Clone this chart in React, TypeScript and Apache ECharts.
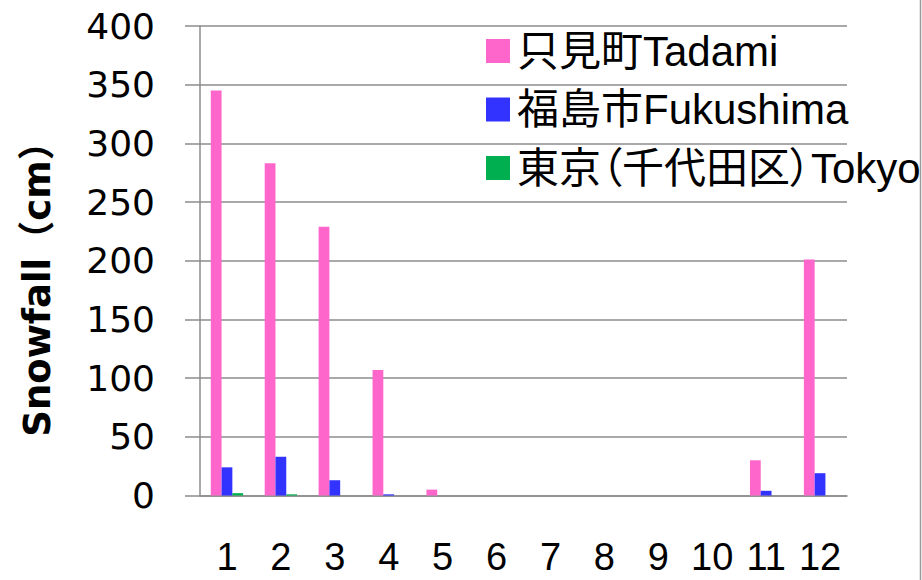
import React, { useEffect, useRef } from "react";
import * as echarts from "echarts";

const months = ["1", "2", "3", "4", "5", "6", "7", "8", "9", "10", "11", "12"];
const tadami = [345, 283, 229, 107, 5, 0, 0, 0, 0, 0, 30, 201];
const fukushima = [24, 33, 13, 1, 0, 0, 0, 0, 0, 0, 4, 19];
const tokyo = [2, 1, 0, 0, 0, 0, 0, 0, 0, 0, 0, 0];
const seriesNames = ["只見町Tadami", "福島市Fukushima", "東京（千代田区）Tokyo"];
const colors = ["#FF66CC", "#3333FF", "#00B050"];
const yTitle = "Snowfall（cm）";

const XLAB = "'Liberation Sans', 'Noto Sans CJK JP', sans-serif";
const YLAB = "'DejaVu Sans', 'Noto Sans CJK JP', sans-serif";
const LEGEND_FONT = "'Liberation Sans', 'Noto Sans CJK JP', sans-serif";
const GRID_COLOR = "#8c8c8c";

// proportional CJK punctuation for the legend texts (as in the reference)
const css = `text[style*="Liberation"], text[font-family*="Liberation"] { font-feature-settings: "palt" 1; }`;

export default function App() {
  const ref = useRef<HTMLDivElement>(null);
  useEffect(() => {
    if (!ref.current) return;
    const chart = echarts.init(ref.current, null, { renderer: "svg" });
    const data = [tadami, fukushima, tokyo];
    chart.setOption({
      animation: false,
      backgroundColor: "#ffffff",
      grid: { left: 200, right: 75, top: 26, bottom: 84.5 },
      legend: {
        orient: "vertical",
        left: 481,
        top: 24,
        itemWidth: 24,
        itemHeight: 24,
        itemGap: 14.5,
        icon: "rect",
        textStyle: {
          fontSize: 42,
          lineHeight: 44,
          color: "#000",
          fontFamily: LEGEND_FONT,
          padding: [0, 0, 0, 2],
        },
        data: seriesNames,
      },
      xAxis: {
        type: "category",
        data: months,
        axisLine: { show: true, lineStyle: { color: GRID_COLOR, width: 1.5 } },
        axisTick: { show: false },
        axisLabel: {
          color: "#000",
          fontSize: 38,
          lineHeight: 36,
          fontFamily: XLAB,
          margin: 43,
          interval: 0,
        },
      },
      yAxis: {
        type: "value",
        min: 0,
        max: 400,
        interval: 50,
        axisLine: { show: true, lineStyle: { color: GRID_COLOR, width: 1.5 } },
        axisTick: { show: true, length: 15, lineStyle: { color: GRID_COLOR, width: 1.5 } },
        splitLine: { show: true, lineStyle: { color: GRID_COLOR, width: 1.5 } },
        axisLabel: {
          color: "#000",
          fontSize: 36,
          fontFamily: YLAB,
          margin: 45,
        },
      },
      graphic: [
        {
          type: "text",
          x: 37,
          y: 280,
          rotation: Math.PI / 2,
          style: {
            text: yTitle,
            fontSize: 37,
            fontWeight: "bold",
            fontFamily: "'DejaVu Sans', 'Noto Sans CJK JP', sans-serif",
            fill: "#000",
            textAlign: "center",
            textVerticalAlign: "middle",
          },
        },
        {
          type: "line",
          shape: { x1: 920.5, y1: 0, x2: 920.5, y2: 580 },
          style: { stroke: "#9a9a9a", lineWidth: 1.5 },
        },
      ],
      series: seriesNames.map((name, i) => ({
        name,
        type: "bar",
        data: data[i],
        barGap: "0%",
        barCategoryGap: "40%",
        itemStyle: { color: colors[i] },
      })),
    });
    return () => chart.dispose();
  }, []);
  return (
    <>
      <style>{css}</style>
      <div
        ref={ref}
        style={{ position: "fixed", left: 0, top: 0, width: 922, height: 580 }}
      />
    </>
  );
}
